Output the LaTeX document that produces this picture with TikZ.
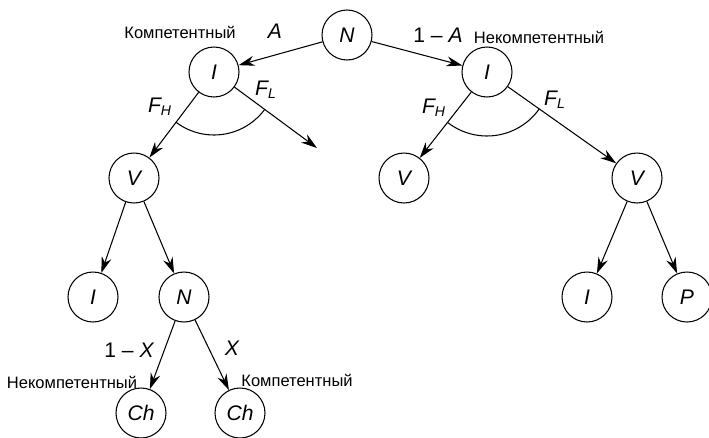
\documentclass[tikz,border=0pt]{standalone}
\usepackage{fontspec}
\setmainfont{Liberation Sans}
\usetikzlibrary{arrows.meta}

\begin{document}
\begin{tikzpicture}[
  >={Stealth[length=3.2mm, width=2mm]},
  line width=0.6pt,
  st/.style={draw, circle, minimum size=1cm, inner sep=0pt, font=\large\itshape},
  lbl/.style={inner sep=1pt, font=\fontsize{9.4}{11}\selectfont},
  prob/.style={inner sep=1pt, font=\large\itshape}
]
\useasboundingbox (0,0) rectangle (14.18,-8.74);
% states of the tree
\node[st] (n0)  at (6.94,-0.70) {N};
\node[st] (iL)  at (4.28,-1.44) {I};
\node[st] (iR)  at (9.74,-1.44) {I};
\node[st] (vL)  at (2.68,-3.56) {V};
\coordinate (lo) at (6.34,-2.96);
\node[st] (vM)  at (8.08,-3.56) {V};
\node[st] (vR)  at (12.74,-3.56) {V};
\node[st] (iB)  at (1.86,-5.94) {I};
\node[st] (nB)  at (3.68,-5.94) {N};
\node[st] (iBR) at (11.74,-5.94) {I};
\node[st] (pB)  at (13.74,-5.94) {P};
\node[st] (ch1) at (2.82,-8.26) {Ch};
\node[st] (ch2) at (4.80,-8.26) {Ch};
% branch labels
\node[lbl] (kL)  at (3.60,-0.64) {Компетентный};
\node[lbl] (nkR) at (10.78,-0.74) {Некомпетентный};
\node[lbl] (nkB) at (1.44,-7.64) {Некомпетентный};
\node[lbl] (kB)  at (5.94,-7.60) {Компетентный};
\node[prob] (pA)  at (5.50,-0.62) {A};
\node[prob] (pA1) at (8.76,-0.70) {\upshape 1 -- \itshape A};
\node[prob] (fh1) at (3.20,-2.14) {F\textsubscript{H}};
\node[prob] (fl1) at (5.32,-1.80) {F\textsubscript{L}};
\node[prob] (fh2) at (8.68,-2.16) {F\textsubscript{H}};
\node[prob] (fl2) at (11.10,-2.00) {F\textsubscript{L}};
\node[prob] (pX1) at (2.58,-7.00) {\upshape 1 -- \itshape X};
\node[prob] (pX)  at (4.64,-6.96) {X};
\draw[->] (n0) -- (iL);
\draw[->] (n0) -- (iR);
\draw[->] (iL) -- (vL);
\draw[->] (iL) -- (lo);
\draw[->] (iR) -- (vM);
\draw[->] (iR) -- (vR);
\draw[->] (vL) -- (iB);
\draw[->] (vL) -- (nB);
\draw[->] (vR) -- (iBR);
\draw[->] (vR) -- (pB);
\draw[->] (nB) -- (ch1);
\draw[->] (nB) -- (ch2);
% arcs joining the two outcomes
\draw (iL.center) ++(-127:1.26cm) arc[start angle=-127, end angle=-36.4, radius=1.26cm];
\draw (iR.center) ++(-128:1.28cm) arc[start angle=-128, end angle=-35.2, radius=1.28cm];
\end{tikzpicture}
\end{document}
